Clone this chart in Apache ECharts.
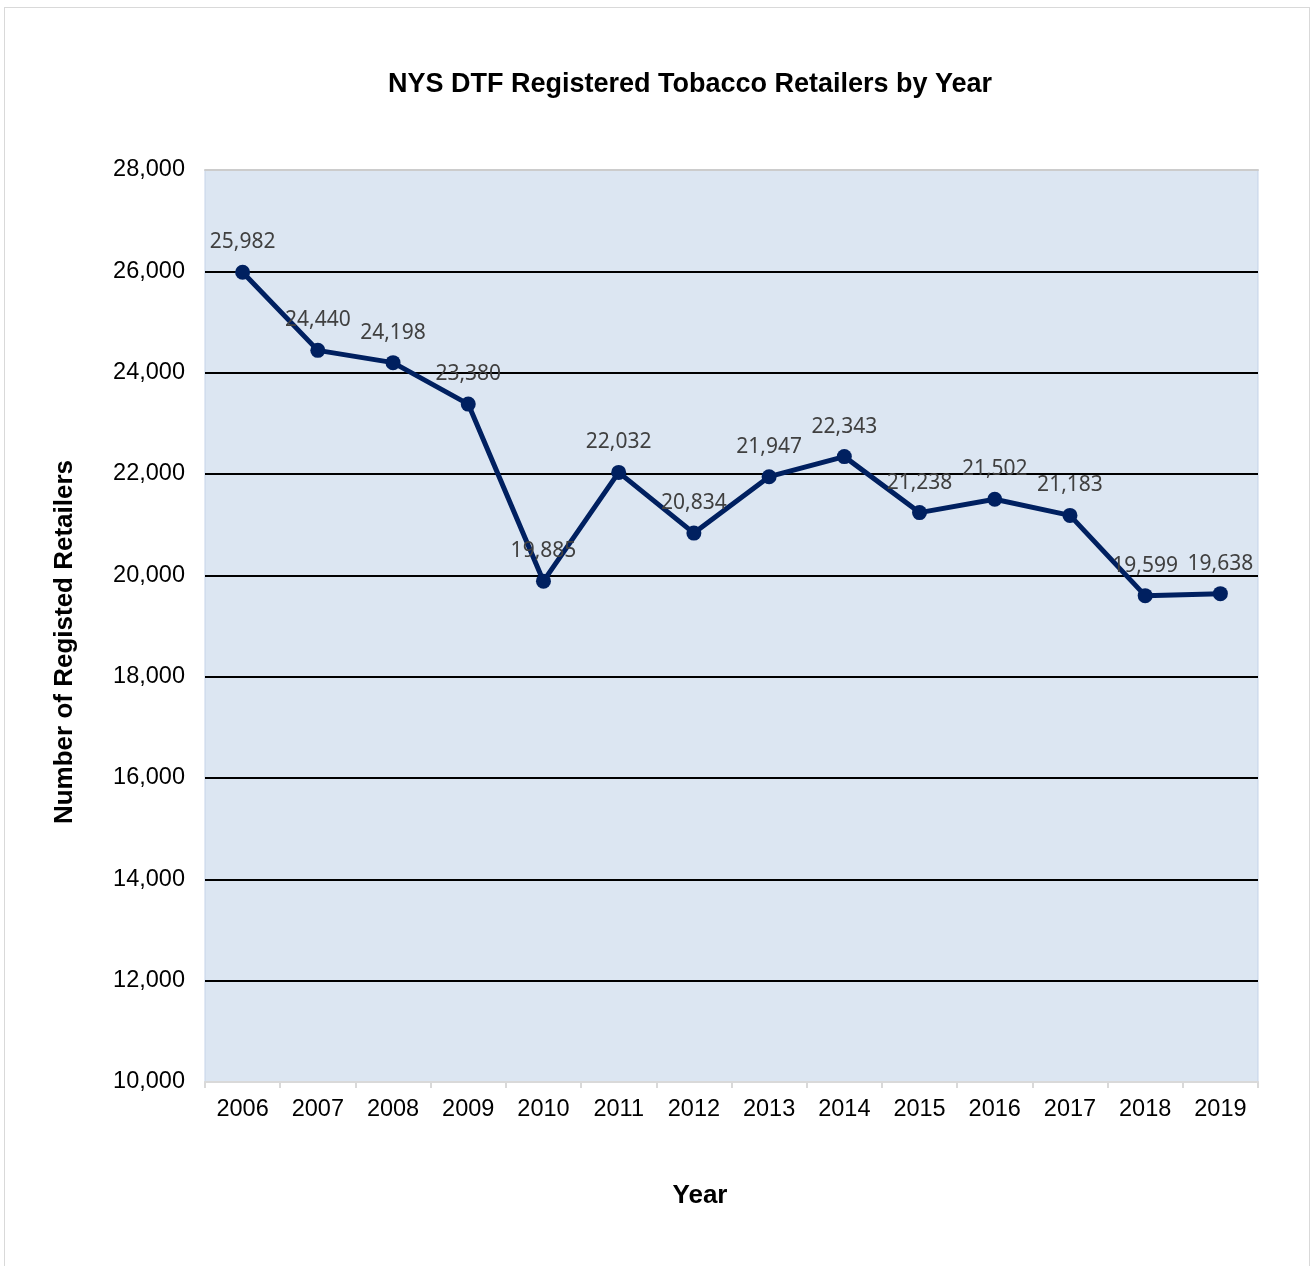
<!DOCTYPE html>
<html>
<head>
<meta charset="utf-8">
<script src="https://cdn.jsdelivr.net/npm/echarts@6/dist/echarts.min.js"></script>
<style>
html,body{margin:0;padding:0;background:#fff;}
#frame{position:absolute;left:4px;top:7px;width:1306px;height:1270px;border:1px solid #d9d9d9;box-sizing:border-box;}
#chart{position:absolute;left:0;top:0;width:1312px;height:1266px;}
</style>
</head>
<body>
<div id="frame"></div>
<div id="chart"></div>
<script>
const years = ['2006','2007','2008','2009','2010','2011','2012','2013','2014','2015','2016','2017','2018','2019'];
const retailers = [25982, 24440, 24198, 23380, 19885, 22032, 20834, 21947, 22343, 21238, 21502, 21183, 19599, 19638];
const yMin = 10000, yMax = 28000, yStep = 2000;
const titleText = 'NYS DTF Registered Tobacco Retailers by Year';
const xName = 'Year';
const yName = 'Number of Registed Retailers';

const chart = echarts.init(document.getElementById('chart'), null, {renderer: 'canvas'});
const fmt = v => v.toLocaleString('en-US');
const bold = {fontFamily: 'Liberation Sans', fontWeight: 'bold', fontSize: 26, fill: '#000', textAlign: 'center', textVerticalAlign: 'middle'};
chart.setOption({
  backgroundColor: 'transparent',
  animation: false,
  graphic: [
    {type: 'text', x: 690, y: 85, style: Object.assign({text: titleText}, bold, {fontSize: 27})},
    {type: 'text', x: 700, y: 1196, style: Object.assign({text: xName}, bold)},
    {type: 'text', x: 65, y: 642, rotation: Math.PI / 2, style: Object.assign({text: yName}, bold)}
  ],
  grid: {left: 205, right: 54, top: 170, bottom: 184, show: true, backgroundColor: '#dce6f2', borderColor: '#c5d3e8', borderWidth: 1},
  xAxis: [{
    type: 'category', data: years, boundaryGap: true,
    axisLine: {lineStyle: {color: '#d9d9d9', width: 2}},
    axisTick: {show: true, length: 6, lineStyle: {color: '#d9d9d9', width: 2}},
    axisLabel: {margin: 16, fontFamily: 'Liberation Sans', fontSize: 23.5, color: '#000'}
  }, {
    type: 'category', data: years, position: 'top',
    axisLine: {show: true, lineStyle: {color: '#cccccc', width: 2}},
    axisTick: {show: false}, axisLabel: {show: false}
  }],
  yAxis: {
    type: 'value', min: yMin, max: yMax, interval: yStep,
    axisLine: {show: false}, axisTick: {show: false},
    axisLabel: {margin: 20, fontFamily: 'Liberation Sans', fontSize: 23.5, color: '#000', formatter: v => fmt(v)},
    splitLine: {show: true, showMinLine: false, showMaxLine: false, lineStyle: {color: '#000', width: 2}}
  },
  series: [{
    type: 'line', data: retailers, xAxisIndex: 0,
    symbol: 'circle', symbolSize: 15,
    lineStyle: {color: '#002060', width: 5},
    itemStyle: {color: '#002060'},
    label: {show: true, position: 'top', distance: 12, formatter: p => fmt(p.value),
      fontFamily: 'Noto Sans', fontSize: 21, color: '#404040'}
  }]
});
</script>
</body>
</html>
